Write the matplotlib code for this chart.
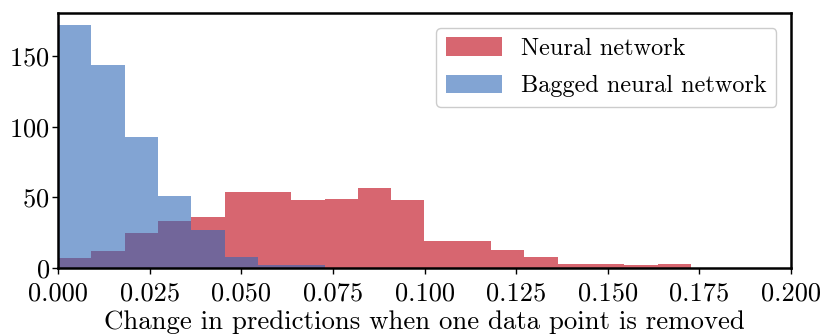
import numpy as np
import matplotlib
matplotlib.use("Agg")
import matplotlib.pyplot as plt

plt.rcParams['font.family'] = ['cmr10', 'DejaVu Serif']
plt.rcParams['axes.formatter.use_mathtext'] = True
plt.rcParams['mathtext.fontset'] = 'cm'

# Histogram data (counts per bin), bins share a common width
bin_width = 0.00909
nn_counts = [7, 12, 25, 33, 36, 54, 54, 48, 49, 57, 48, 19, 19, 13, 8, 3, 3, 2, 3]
bagged_counts = [172, 144, 93, 51, 27, 8, 2, 2, 0, 0, 0, 0, 0, 0, 0, 0, 0, 0, 0]
series_labels = ["Neural network", "Bagged neural network"]
xticks = [0.0, 0.025, 0.05, 0.075, 0.1, 0.125, 0.15, 0.175, 0.2]
yticks = [0, 50, 100, 150]
xlabel = "Change in predictions when one data point is removed"

n = len(nn_counts)
edges = np.arange(n + 1) * bin_width
centers = (edges[:-1] + edges[1:]) / 2

fig = plt.figure(figsize=(8.25, 3.35), dpi=100)
ax = fig.add_axes([0.0703, 0.2, 0.9588 - 0.0703, 0.961 - 0.2])

red = (199/255, 37/255, 51/255)
blue = (47/255, 103/255, 183/255)
ax.hist(centers, bins=edges, weights=nn_counts, color=red, alpha=0.7,
        label=series_labels[0])
ax.hist(centers, bins=edges, weights=bagged_counts, color=blue, alpha=0.6,
        label=series_labels[1])

ax.set_xlim(0, 0.2)
ax.set_xticks(xticks)
ax.set_xticklabels([f"{t:.3f}" for t in xticks])
ax.set_yticks(yticks)
ax.tick_params(axis='both', labelsize=19, direction='out', length=4.5, width=1,
               colors='black')
ax.tick_params(axis='x', pad=5.5)
ax.tick_params(axis='y', pad=1.5)
for s in ax.spines.values():
    s.set_linewidth(1.8)
    s.set_color('black')
ax.set_xlabel(xlabel, fontsize=19.3, labelpad=3.5)

leg = ax.legend(loc='upper right', fontsize=17.5, fancybox=True,
                edgecolor='0.8', framealpha=1.0, handlelength=2.3,
                handleheight=0.8, borderaxespad=0.6, labelspacing=0.6)

fig.savefig("out.png", dpi=100)
